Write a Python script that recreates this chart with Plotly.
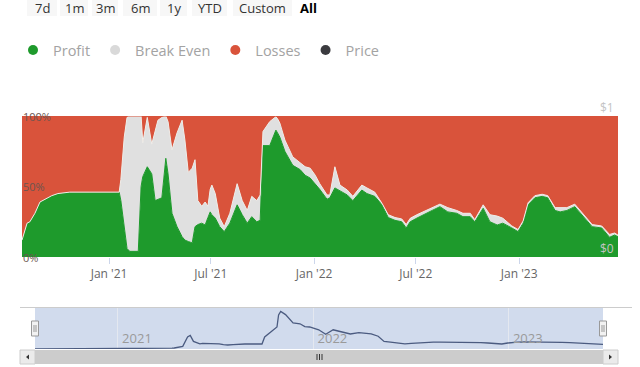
import plotly.graph_objects as go

# ---------------- data ----------------
dates = [
    "2020-07-30", "2020-08-08", "2020-08-13", "2020-08-22", "2020-08-31", "2020-09-09",
    "2020-09-21", "2020-10-02", "2020-10-23", "2020-11-28", "2021-01-03", "2021-01-19",
    "2021-01-22", "2021-01-28", "2021-02-02", "2021-02-07", "2021-02-22", "2021-02-27",
    "2021-03-02", "2021-03-10", "2021-03-18", "2021-03-24", "2021-03-29", "2021-04-05",
    "2021-04-12", "2021-04-16", "2021-04-23", "2021-05-02", "2021-05-11", "2021-05-16",
    "2021-05-22", "2021-05-29", "2021-06-03", "2021-06-08", "2021-06-15", "2021-06-21",
    "2021-06-26", "2021-06-30", "2021-07-03", "2021-07-09", "2021-07-17", "2021-07-25",
    "2021-08-04", "2021-08-17", "2021-08-26", "2021-09-04", "2021-09-12", "2021-09-21",
    "2021-09-27", "2021-10-02", "2021-10-14", "2021-10-25", "2021-10-28", "2021-11-01",
    "2021-11-10", "2021-11-24", "2021-12-07", "2021-12-16", "2021-12-25", "2022-01-03",
    "2022-01-11", "2022-01-24", "2022-01-29", "2022-02-07", "2022-02-16", "2022-03-01",
    "2022-03-11", "2022-03-27", "2022-04-05", "2022-04-19", "2022-05-02", "2022-05-13",
    "2022-05-25", "2022-06-06", "2022-06-14", "2022-06-21", "2022-07-03", "2022-07-14",
    "2022-07-30", "2022-08-13", "2022-08-27", "2022-09-12", "2022-09-23", "2022-10-06",
    "2022-10-14", "2022-10-29", "2022-11-10", "2022-11-23", "2022-12-03", "2022-12-19",
    "2022-12-30", "2023-01-08", "2023-01-17", "2023-01-29", "2023-02-11", "2023-02-21",
    "2023-03-06", "2023-03-15", "2023-03-27", "2023-04-10", "2023-04-25", "2023-05-11",
    "2023-05-28", "2023-06-11", "2023-06-20", "2023-06-26",
]

profit_pct = [
    12, 24, 25, 31, 39, 41,
    43.5, 45, 46, 46, 46, 46,
    40, 20, 6, 4, 4, 50,
    57, 64, 59, 40, 41, 42,
    70, 59, 31, 21.5, 14.4, 12,
    11, 10, 21.5, 23, 24, 22.7,
    28, 32, 30, 27.6, 21.5, 18,
    24, 37, 30, 24, 28.6, 25,
    26, 79, 79, 90, 88, 85,
    75, 65, 62, 58, 56, 52,
    48, 41, 42, 49, 47, 44,
    40, 47.5, 45, 43, 37, 28,
    26, 25, 20.6, 25, 27.6, 30,
    33, 35.7, 32, 31, 28.6, 28.6,
    25, 34.6, 25, 22.7, 24, 20.6,
    18, 24, 37, 42, 43, 42,
    33, 32, 33, 35.7, 28.6, 21.5,
    20.6, 14, 15.6, 14.4,
]

break_even_pct = [
    0, 0, 0, 0, 0, 0,
    0, 0, 0, 0, 0, 0,
    15, 65, 93, 96, 96, 50,
    24, 35, 21, 50, 56, 57,
    30, 37, 45, 66.5, 82.6, 71,
    49, 53, 47.5, 17, 12, 16.3,
    8, 16, 21, 17.4, 6.1, 3.5,
    7, 15, 10, 9, 14.4, 15,
    18, 10, 17, 9.5, 10, 10,
    8, 6, 5, 6, 7, 6,
    4, 3, 2, 15, 4, 3.5,
    3, 3.5, 4, 3, 1, 2,
    2, 2, 2.4, 2.4, 2.4, 2,
    2, 1.8, 3, 2, 2.4, 2.4,
    1.5, 2.4, 5, 6.3, 3.5, 1.4,
    1.5, 1.5, 1.5, 1.5, 1.5, 1.5,
    2, 3, 2, 1.8, 1.9, 1.5,
    1.4, 2, 1.4, 1.1,
]

price_usd = [
    0.003, 0.003, 0.003, 0.003, 0.003, 0.003,
    0.004, 0.004, 0.004, 0.004, 0.005, 0.005,
    0.005, 0.005, 0.006, 0.006, 0.006, 0.007,
    0.007, 0.008, 0.008, 0.010, 0.012, 0.015,
    0.020, 0.025, 0.040, 0.065, 0.30, 0.34,
    0.19, 0.16, 0.13, 0.14, 0.14, 0.14,
    0.14, 0.14, 0.14, 0.13, 0.11, 0.10,
    0.11, 0.125, 0.125, 0.125, 0.125, 0.125,
    0.125, 0.30, 0.44, 0.55, 0.85, 0.94,
    0.86, 0.65, 0.63, 0.56, 0.55, 0.51,
    0.48, 0.37, 0.41, 0.48, 0.45, 0.41,
    0.375, 0.41, 0.40, 0.38, 0.32, 0.19,
    0.17, 0.15, 0.13, 0.13, 0.14, 0.15,
    0.16, 0.17, 0.17, 0.17, 0.165, 0.165,
    0.165, 0.16, 0.16, 0.15, 0.135, 0.125,
    0.15, 0.165, 0.17, 0.18, 0.18, 0.175,
    0.17, 0.17, 0.17, 0.165, 0.16, 0.15,
    0.14, 0.13, 0.12, 0.115,
]

losses_pct = [round(100 - p - b, 2) for p, b in zip(profit_pct, break_even_pct)]

series_names = ["Profit", "Break Even", "Losses", "Price"]
pct_ticks = [0, 50, 100]
pct_labels = ["0%", "50%", "100%"]
price_ticks = [0, 1]
price_labels = ["$0", "$1"]
range_buttons = ["7d", "1m", "3m", "6m", "1y", "YTD", "Custom", "All"]
x_start, x_end = "2020-07-30", "2023-06-26"

assert len(dates) == len(profit_pct) == len(break_even_pct) == len(price_usd)

# ---------------- style / geometry ----------------
W, H = 640, 367
ML, MR, MT, MB = 22, 22, 100, 0
PW, PH = W - ML - MR, H - MT - MB


def fx(px):
    return (px - ML) / PW


def fy(py):
    return (H - py) / PH


GREEN, GREY, RED, DARK = "#1e9a2c", "#e0e0e0", "#d9533b", "#3b3b3f"
FONT = "Open Sans"

fig = go.Figure()

# price line on the main right axis (drawn underneath the areas)
fig.add_trace(go.Scatter(x=dates, y=price_usd, mode="lines", line=dict(color=DARK, width=1),
                         xaxis="x", yaxis="y", showlegend=False, hoverinfo="skip"))

# stacked areas on the percentage axis
for name, vals, col, lc in [("Profit", profit_pct, GREEN, GREEN),
                             ("Break Even", break_even_pct, GREY, "#eeeeea"),
                             ("Losses", losses_pct, RED, RED)]:
    fig.add_trace(go.Scatter(x=dates, y=vals, mode="lines", stackgroup="one", name=name,
                             line=dict(color=lc, width=1), fillcolor=col,
                             xaxis="x", yaxis="y2", showlegend=False))

# navigator price line
fig.add_trace(go.Scatter(x=dates, y=price_usd, mode="lines", line=dict(color="#4b5b80", width=1.3),
                         xaxis="x2", yaxis="y3", showlegend=False, hoverinfo="skip"))

# legend entries (circle markers)
for name, col in zip(series_names, [GREEN, "#d9d9d9", RED, DARK]):
    fig.add_trace(go.Scatter(x=[None], y=[None], mode="markers", name=name,
                             marker=dict(color=col, size=10, symbol="circle"),
                             xaxis="x", yaxis="y2", showlegend=True))

main_dom = [fy(257), fy(116)]
nav_xdom = [fx(35), fx(603)]
nav_ydom = [fy(349), fy(307)]

fig.update_layout(
    width=W, height=H,
    margin=dict(l=ML, r=MR, t=MT, b=MB),
    paper_bgcolor="white", plot_bgcolor="white",
    font=dict(family=FONT, color="#666666"),
    showlegend=True,
    legend=dict(orientation="h", x=fx(13), y=fy(50), xanchor="left", yanchor="middle",
                traceorder="normal",
                font=dict(size=14.5, color="#a3a3a3", family=FONT), bgcolor="rgba(0,0,0,0)",
                itemclick=False, itemdoubleclick=False),
    xaxis=dict(domain=[0, 1], range=[x_start, x_end], anchor="y", showgrid=False, zeroline=False,
               type="date", tickformat="%b '%y", dtick="M6", tick0="2021-01-01",
               ticks="outside", ticklen=6, tickcolor="#ccd6eb", tickwidth=1,
               tickfont=dict(size=12, color="#666666", family=FONT), showline=False, fixedrange=True),
    yaxis=dict(domain=main_dom, range=[0, 1], side="right", anchor="x", showgrid=False, zeroline=False,
               showticklabels=False, ticks="", fixedrange=True),
    yaxis2=dict(range=[0, 100], overlaying="y", side="left", anchor="x", showgrid=False, zeroline=False,
                showticklabels=False, ticks="", fixedrange=True),
    xaxis2=dict(domain=nav_xdom, range=[x_start, x_end], anchor="y3", type="date",
                showgrid=True, gridcolor="#e4e8f0", gridwidth=1, zeroline=False,
                tickformat="%Y", dtick="M12", tick0="2021-01-01", ticks="",
                ticklabelposition="inside", ticklabelshift=19,
                tickfont=dict(size=13, color="#9a9a9a", family=FONT), fixedrange=True),
    yaxis3=dict(domain=nav_ydom, range=[0, 1.05], anchor="x2", visible=False, fixedrange=True),
)

shapes = []
annotations = []

# left percentage labels, positioned on the percent axis
for v, t in zip(pct_ticks, pct_labels):
    annotations.append(dict(xref="paper", yref="y2", x=0, y=v, text=t, showarrow=False,
                            xanchor="left", yanchor="middle", xshift=-1,
                            font=dict(size=11, color="#6b5550", family=FONT)))
# right price labels, above their tick values
for v, t in zip(price_ticks, price_labels):
    annotations.append(dict(xref="paper", yref="y", x=1, y=v, text=t, showarrow=False,
                            xanchor="right", yanchor="bottom", xshift=-2, yshift=-2,
                            font=dict(size=12, color="#c4c4c4", family=FONT)))

# navigator background
shapes.append(dict(type="rect", xref="x2 domain", yref="y3 domain", x0=0, x1=1, y0=0, y1=1,
                   fillcolor="#d1dbed", line=dict(width=0), layer="below"))
# navigator top outline
shapes.append(dict(type="line", xref="paper", yref="paper", x0=fx(20), x1=fx(632),
                   y0=fy(307.5), y1=fy(307.5), line=dict(color="#cccccc", width=1)))
# handles
for hx in (35, 603):
    shapes.append(dict(type="rect", xref="paper", yref="paper", x0=fx(hx - 3.5), x1=fx(hx + 3.5),
                       y0=fy(336), y1=fy(321), fillcolor="#f2f2f2", line=dict(color="#999999", width=1)))
    for dx in (-1, 1):
        shapes.append(dict(type="line", xref="paper", yref="paper", x0=fx(hx + dx), x1=fx(hx + dx),
                           y0=fy(332), y1=fy(325), line=dict(color="#999999", width=1)))
# scrollbar
shapes.append(dict(type="rect", xref="paper", yref="paper", x0=fx(20), x1=fx(618), y0=fy(364), y1=fy(350),
                   fillcolor="#f2f2f2", line=dict(width=0)))
shapes.append(dict(type="rect", xref="paper", yref="paper", x0=fx(35), x1=fx(603), y0=fy(364), y1=fy(350),
                   fillcolor="#cccccc", line=dict(width=0)))
for bx0, bx1 in ((20, 35), (603, 618)):
    shapes.append(dict(type="rect", xref="paper", yref="paper", x0=fx(bx0), x1=fx(bx1), y0=fy(364), y1=fy(350),
                       fillcolor="#ebebeb", line=dict(color="#cccccc", width=1)))
# arrows
shapes.append(dict(type="path", xref="paper", yref="paper",
                   path=f"M {fx(26)},{fy(357)} L {fx(29)},{fy(354.5)} L {fx(29)},{fy(359.5)} Z",
                   fillcolor="#333333", line=dict(width=0)))
shapes.append(dict(type="path", xref="paper", yref="paper",
                   path=f"M {fx(612)},{fy(357)} L {fx(609)},{fy(354.5)} L {fx(609)},{fy(359.5)} Z",
                   fillcolor="#333333", line=dict(width=0)))
# grip
for gx in (317, 319.5, 322):
    shapes.append(dict(type="line", xref="paper", yref="paper", x0=fx(gx), x1=fx(gx),
                       y0=fy(360), y1=fy(354), line=dict(color="#333333", width=1)))

# range selector buttons
btn_boxes = [(27, 57), (60, 88), (92, 118), (123, 157), (160, 187), (192, 227), (233, 292), (295, 322)]
for label, (bx0, bx1) in zip(range_buttons, btn_boxes):
    active = label == "All"
    if not active:
        shapes.append(dict(type="rect", xref="paper", yref="paper", x0=fx(bx0), x1=fx(bx1),
                           y0=fy(16), y1=fy(-6), fillcolor="#f7f7f7", line=dict(width=0), layer="below"))
    annotations.append(dict(xref="paper", yref="paper", x=fx((bx0 + bx1) / 2), y=fy(8),
                            text=f"<b>{label}</b>" if active else label, showarrow=False,
                            xanchor="center", yanchor="middle",
                            font=dict(size=13, color="#000000" if active else "#333333", family=FONT)))

fig.update_layout(shapes=shapes, annotations=annotations)

fig.write_html("out.html", config={"displayModeBar": False},
               post_script="document.body.style.margin='0px';")
